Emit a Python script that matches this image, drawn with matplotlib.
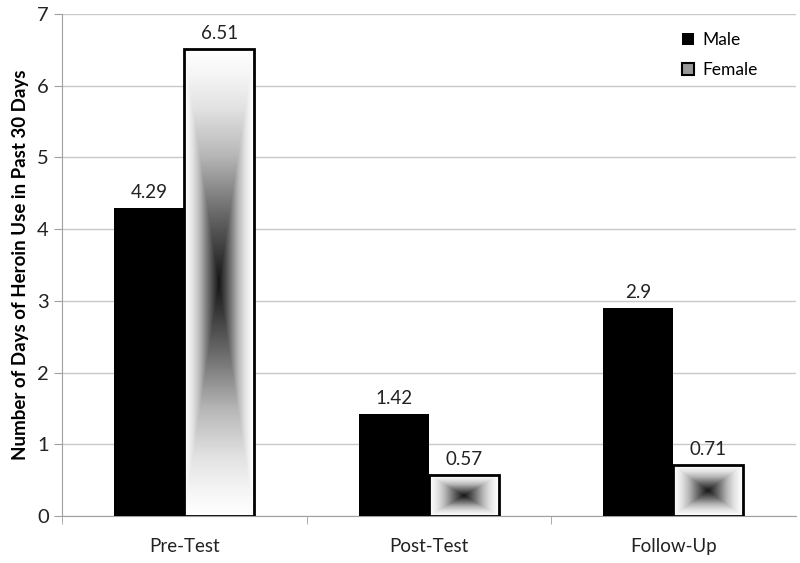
import numpy as np
import matplotlib.pyplot as plt
from matplotlib.colors import LinearSegmentedColormap

plt.rcParams['font.family'] = ['Lato', 'DejaVu Sans']

categories = ['Pre-Test', 'Post-Test', 'Follow-Up']
male = [4.29, 1.42, 2.9]
female = [6.51, 0.57, 0.71]
male_labels = ['4.29', '1.42', '2.9']
female_labels = ['6.51', '0.57', '0.71']

fig = plt.figure(figsize=(8, 5.63), dpi=100)
ax = fig.add_axes([0.0775, 0.0835, 0.917, 0.8915])

x = np.arange(len(categories))
w = 0.286

# "from center" grey gradient for the female bars
cmap = LinearSegmentedColormap.from_list(
    'ctr', [(0.0, '#151515'), (0.3, '#6a6a6a'), (0.55, '#b8b8b8'),
            (0.75, '#e2e2e2'), (0.9, '#f6f6f6'), (1.0, '#ffffff')])

def gradient(n=200):
    u = np.linspace(-1, 1, n)
    X, Y = np.meshgrid(u, u)
    return np.maximum(np.abs(X), np.abs(Y))

mb = ax.bar(x - w / 2, male, w, color='black', zorder=3, label='Male')
fb = ax.bar(x + w / 2, female, w, facecolor='none', edgecolor='black', linewidth=2, zorder=4, label='Female')
for rect in fb:
    x0, y0 = rect.get_x(), rect.get_y()
    im = ax.imshow(gradient(), cmap=cmap, vmin=0, vmax=1, aspect='auto',
                   extent=(x0, x0 + rect.get_width(), y0, y0 + rect.get_height()),
                   zorder=3, interpolation='bilinear')
    im.set_clip_path(rect)

for i in range(len(categories)):
    ax.text(x[i] - w / 2, male[i] + 0.1, male_labels[i], ha='center', va='bottom', fontsize=13.5, color='#222222')
    ax.text(x[i] + w / 2, female[i] + 0.1, female_labels[i], ha='center', va='bottom', fontsize=13.5, color='#222222')

ax.set_xlim(-0.5, 2.5)
ax.set_ylim(0, 7)
ax.set_yticks(range(8))
ax.yaxis.grid(True, color='#c8c8c8', linewidth=1)
ax.set_axisbelow(True)
ax.set_xticks(x)
ax.set_xticklabels(categories, fontsize=13.5, color='#222222')
ax.set_xticks([-0.5, 0.5, 1.5], minor=True)
ax.tick_params(axis='x', which='major', length=0, pad=16)
ax.tick_params(axis='x', which='minor', length=6, color='#a0a0a0')
ax.tick_params(axis='y', length=6, labelsize=14.5)
ax.tick_params(axis='y', colors='#a0a0a0', labelcolor='#222222')
for s in ['top', 'right']:
    ax.spines[s].set_visible(False)
ax.spines['left'].set_color('#a0a0a0')
ax.spines['bottom'].set_color('#a0a0a0')
ax.set_ylabel('Number of Days of Heroin Use in Past 30 Days', fontsize=13.5, fontweight='bold', labelpad=6)

leg = ax.legend(loc='upper right', bbox_to_anchor=(0.97, 0.995), frameon=False, fontsize=12.5,
                handlelength=0.7, handleheight=0.7, handletextpad=0.5, labelspacing=0.8)
for h in leg.legend_handles:
    h.set_linewidth(1.5)
leg.legend_handles[1].set_facecolor('#999999')

plt.savefig('out.png', dpi=100)
